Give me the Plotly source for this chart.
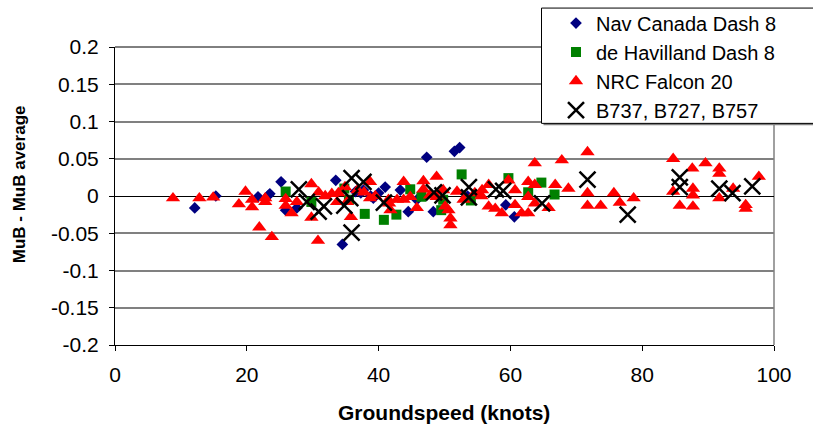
import plotly.graph_objects as go

# ---------------- data ----------------
nav_x = [12.1, 15.3, 21.7, 23.3, 23.5, 25.2, 25.9, 27.6, 33.5, 34.5, 36.5, 37.3, 37.7, 38.8,
         39.2, 40.0, 41.0, 43.3, 44.5, 45.8, 47.3, 48.3, 51.5, 52.3, 53.5, 59.3, 60.6]
nav_y = [-0.016, 0.0, -0.001, 0.001, 0.003, 0.019, -0.019, -0.016, 0.021, -0.065, 0.006, 0.004, 0.008, 0.0,
         -0.003, 0.004, 0.012, 0.008, -0.021, -0.005, 0.052, -0.021, 0.060, 0.065, 0.0, -0.012, -0.028]

dh_x = [25.9, 29.8, 34.8, 35.5, 37.9, 40.8, 42.7, 44.8, 46.5, 49.5, 49.8, 52.6, 54.0, 59.7, 62.7, 64.7, 66.7]
dh_y = [0.006, -0.008, 0.010, -0.005, -0.024, -0.032, -0.025, 0.009, -0.001, -0.019, -0.005, 0.029, -0.006,
        0.024, 0.005, 0.018, 0.002]

nrc_x = [8.8, 12.8, 14.9, 18.8, 19.8, 20.8, 20.8, 21.9, 22.8, 22.8, 23.8, 25.9, 25.9, 26.8, 27.6,
         29.8, 29.8, 30.8, 30.9, 31.9, 32.9, 33.9, 33.7, 34.9, 35.2, 35.8, 36.8, 37.8, 38.7, 38.7,
         39.5, 41.5, 41.8, 41.6, 42.8, 43.8, 43.8, 44.8, 45.8, 46.8, 46.8, 47.8, 48.8, 48.8, 49.8,
         50.1, 50.6, 50.9, 50.9, 51.9, 52.9, 54.6, 55.7, 55.6, 56.7, 56.7, 57.7, 58.7, 59.7, 60.7,
         60.7, 61.7, 62.7, 62.7, 62.7, 63.7, 63.7, 63.7, 65.8, 66.8, 67.8, 68.8, 71.7, 71.7, 71.7,
         73.7, 75.7, 76.6, 78.7, 84.7, 84.7, 85.7, 87.6, 87.7, 87.7, 87.7, 89.6, 91.7, 91.7, 91.7,
         93.8, 95.7, 95.7, 97.7]
nrc_y = [-0.003, -0.003, -0.002, -0.011, 0.006, -0.005, -0.015, -0.042, -0.003, -0.008, -0.055, -0.004, -0.013, -0.023, -0.008,
         0.016, -0.029, -0.060, 0.005, 0.0, 0.003, 0.004, -0.008, 0.012, -0.008, -0.028, 0.008, 0.005, 0.019, -0.003,
         0.0, -0.005, -0.019, -0.010, -0.005, 0.019, -0.005, -0.001, -0.016, 0.020, 0.009, 0.001, 0.026, -0.001, 0.008,
         -0.014, -0.019, -0.030, -0.039, 0.006, -0.005, 0.004, 0.008, 0.0, 0.015, -0.014, -0.017, -0.023, 0.021, 0.008,
         -0.012, -0.023, 0.019, -0.001, -0.023, 0.044, 0.015, -0.010, -0.016, 0.015, 0.048, 0.010, 0.059, 0.004, -0.013,
         -0.013, 0.004, -0.009, -0.003, 0.050, 0.006, -0.013, 0.037, 0.010, 0.001, -0.014, 0.044, 0.037, 0.030, -0.003,
         0.010, -0.012, -0.017, 0.026]

b7_x = [27.9, 29.1, 30.9, 31.7, 34.8, 35.7, 35.9, 35.9, 37.7, 40.8, 48.4, 49.7, 53.7, 53.7, 57.8, 58.9,
        64.8, 71.7, 77.8, 85.7, 85.7, 91.7, 93.7, 96.7]
b7_y = [0.009, -0.008, -0.021, -0.014, -0.013, -0.003, 0.024, -0.049, 0.019, -0.009, 0.005, 0.001, 0.012, -0.002,
        0.009, 0.007, -0.010, 0.022, -0.025, 0.025, 0.012, 0.010, 0.004, 0.013]

series_names = ["Nav Canada Dash 8", "de Havilland Dash 8", "NRC Falcon 20", "B737, B727, B757"]
y_ticks = [0.2, 0.15, 0.1, 0.05, 0, -0.05, -0.1, -0.15, -0.2]
y_tick_text = ["0.2", "0.15", "0.1", "0.05", "0", "-0.05", "-0.1", "-0.15", "-0.2"]
x_ticks = [0, 20, 40, 60, 80, 100]

# ---------------- figure ----------------
W, H = 813, 433
L, R, T, B = 115, 39, 46.5, 88
pw, ph = W - L - R, H - T - B

fig = go.Figure()
fig.add_trace(go.Scatter(x=nav_x, y=nav_y, mode="markers", name=series_names[0],
                         marker=dict(symbol="diamond", size=9, color="#000080")))
fig.add_trace(go.Scatter(x=dh_x, y=dh_y, mode="markers", name=series_names[1],
                         marker=dict(symbol="square", size=10, color="#008000")))
fig.add_trace(go.Scatter(x=nrc_x, y=nrc_y, mode="markers", name=series_names[2],
                         marker=dict(symbol="triangle-up", size=12.5, color="#FF0000")))
fig.add_trace(go.Scatter(x=b7_x, y=b7_y, mode="markers", name=series_names[3],
                         marker=dict(symbol="x-thin", size=16, color="#000000",
                                     line=dict(width=2.5, color="#000000"))))

def px2paper_x(p):
    return (p - L) / pw

def px2paper_y(p):
    return (H - B - p) / ph

# legend box (white with black border and shadow)
lx0, lx1, ly0, ly1 = 541.5, 830, 7.5, 123
fig.add_shape(type="rect", xref="paper", yref="paper",
              x0=px2paper_x(lx0 + 2), x1=px2paper_x(lx1 + 2), y0=px2paper_y(ly1 + 2), y1=px2paper_y(ly0 + 2),
              fillcolor="#808080", line=dict(width=0), layer="above")
fig.add_shape(type="rect", xref="paper", yref="paper",
              x0=px2paper_x(lx0), x1=px2paper_x(lx1), y0=px2paper_y(ly1), y1=px2paper_y(ly0),
              fillcolor="white", line=dict(width=1, color="black"), layer="above")
# right border of plot area
fig.add_shape(type="line", xref="paper", yref="paper", x0=1, x1=1, y0=0, y1=1,
              line=dict(width=1.5, color="#808080"), layer="below")
# top line at 0.2 (black)
fig.add_shape(type="line", xref="paper", yref="paper", x0=0, x1=1, y0=1, y1=1,
              line=dict(width=1, color="black"), layer="below")

# axis titles
fig.add_annotation(text="<b>Groundspeed (knots)</b>", xref="paper", yref="paper",
                   x=px2paper_x(444), y=px2paper_y(413), xanchor="center", yanchor="middle",
                   showarrow=False,
                   font=dict(family="Liberation Sans, Arial", size=21, color="black"))
fig.add_annotation(text="<b>MuB - MuB average</b>", xref="paper", yref="paper",
                   x=px2paper_x(19), y=px2paper_y(184), xanchor="center", yanchor="middle",
                   showarrow=False, textangle=-90,
                   font=dict(family="Liberation Sans, Arial", size=17, color="black"))

fig.update_layout(
    width=W, height=H,
    margin=dict(l=L, r=R, t=T, b=B, autoexpand=False),
    paper_bgcolor="white", plot_bgcolor="white",
    font=dict(family="Liberation Sans, Arial", size=21, color="black"),
    showlegend=True,
    legend=dict(x=px2paper_x(556), y=px2paper_y(3), xanchor="left", yanchor="top",
                bgcolor="rgba(0,0,0,0)", borderwidth=0, font=dict(size=20),
                tracegroupgap=0, itemsizing="trace"),
    xaxis=dict(range=[0, 100], tickvals=x_ticks, showgrid=False, zeroline=False,
               showline=True, linecolor="black", linewidth=1, mirror=False,
               ticks="outside", ticklen=5, tickcolor="black", tickwidth=1,
               ticklabelstandoff=6, tickfont=dict(size=21)),
    yaxis=dict(range=[-0.2, 0.2], tickvals=y_ticks, ticktext=y_tick_text,
               showgrid=True, gridcolor="#808080", gridwidth=1.5,
               zeroline=True, zerolinecolor="black", zerolinewidth=1,
               showline=True, linecolor="black", linewidth=1,
               ticks="outside", ticklen=5, tickcolor="black", tickwidth=1,
               ticklabelstandoff=6, tickfont=dict(size=21)),
)

fig.write_html("out.html", config={"displayModeBar": False},
               post_script="document.body.style.margin='0';document.body.style.overflow='hidden';")
